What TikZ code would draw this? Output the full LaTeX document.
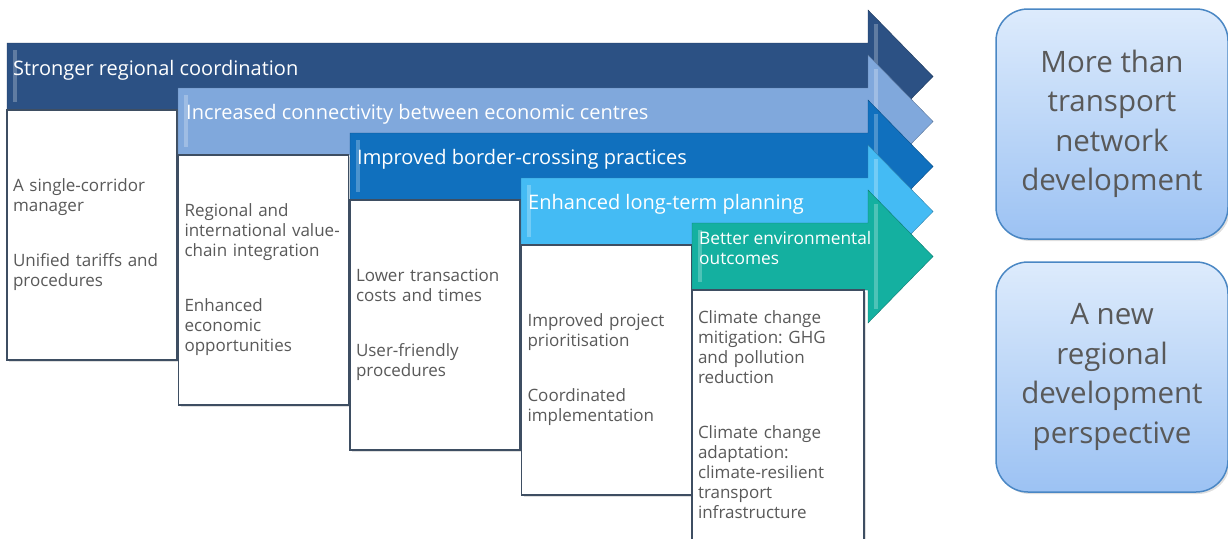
\documentclass[tikz,border=0pt]{standalone}
\usepackage{fontspec}
\setmainfont{Open Sans}
\usetikzlibrary{shadows}
\frenchspacing

\definecolor{navyarrow}{HTML}{2C5184}
\definecolor{skyarrow}{HTML}{80A8DC}
\definecolor{bluearrow}{HTML}{1070BE}
\definecolor{cyanarrow}{HTML}{44BBF4}
\definecolor{tealarrow}{HTML}{14B0A0}
\definecolor{boxtext}{HTML}{595959}
\definecolor{boxedge}{HTML}{3E4E62}
\definecolor{pilltop}{HTML}{DDEBFC}
\definecolor{pillbottom}{HTML}{9CC2F3}
\definecolor{pilledge}{HTML}{4A87C4}

\tikzset{
  arrowlabel/.style={anchor=base west, inner sep=0pt, text=white, font=\fontsize{20}{22}\selectfont},
  bevel/.style={white, opacity=0.25, line width=4pt},
  infobox/.style={draw=boxedge, line width=1.2pt, fill=white, minimum width=170pt, minimum height=250pt,
    text width=158pt, inner xsep=6pt, align=left, text=boxtext, font=\fontsize{17}{20}\selectfont,
    drop shadow={opacity=0.25, shadow xshift=2pt, shadow yshift=-2pt}},
  goalbox/.style={draw=pilledge, line width=1.5pt, rounded corners=32pt, top color=pilltop, bottom color=pillbottom,
    minimum width=232pt, minimum height=230pt, align=center, text=boxtext, font=\fontsize{29.5}{39.5}\selectfont,
    drop shadow={opacity=0.25, shadow xshift=2pt, shadow yshift=-2pt}}
}

\begin{document}
\begin{tikzpicture}[x=1pt,y=-1pt]
\useasboundingbox (0,0) rectangle (1228,538);

% stage 1
\filldraw[fill=navyarrow, draw=navyarrow!70!black] (7,43) -- (868,43) -- (868,10) -- (933,76.5) -- (868,143) -- (868,110) -- (7,110) -- cycle;
\draw[bevel] (15,50) -- (15,102);
\draw[bevel] (876,24) -- (876,129);
\node[arrowlabel] (coord) at (13,75) {Stronger regional coordination};
\node[infobox] (box1) at (92,235) {A single-corridor\\manager\\[35pt]Unified tariffs and\\procedures};

% stage 2
\filldraw[fill=skyarrow, draw=skyarrow!70!black] (178,88) -- (868,88) -- (868,55) -- (933,121.5) -- (868,188) -- (868,155) -- (178,155) -- cycle;
\draw[bevel] (186,95) -- (186,147);
\draw[bevel] (876,69) -- (876,174);
\node[arrowlabel] (connect) at (186,119) {Increased connectivity between economic centres};
\node[infobox] (box2) at (263.5,280) {Regional and\\international value-\\chain integration\\[35pt]Enhanced\\economic\\opportunities};

% stage 3
\filldraw[fill=bluearrow, draw=bluearrow!70!black] (350,133) -- (868,133) -- (868,100) -- (933,166.5) -- (868,233) -- (868,200) -- (350,200) -- cycle;
\draw[bevel] (358,140) -- (358,192);
\draw[bevel] (876,114) -- (876,219);
\node[arrowlabel] (border) at (357,164) {Improved border-crossing practices};
\node[infobox] (box3) at (435,325) {Lower transaction\\costs and times\\[35pt]User-friendly\\procedures};

% stage 4
\filldraw[fill=cyanarrow, draw=cyanarrow!70!black] (521,178) -- (868,178) -- (868,145) -- (933,211.5) -- (868,278) -- (868,245) -- (521,245) -- cycle;
\draw[bevel] (529,185) -- (529,237);
\draw[bevel] (876,159) -- (876,264);
\node[arrowlabel] (planning) at (528,209) {Enhanced long-term planning};
\node[infobox] (box4) at (606.5,370) {Improved project\\prioritisation\\[35pt]Coordinated\\implementation};

% stage 5
\filldraw[fill=tealarrow, draw=tealarrow!70!black] (692,223) -- (868,223) -- (868,190) -- (933,256.5) -- (868,323) -- (868,290) -- (692,290) -- cycle;
\draw[bevel] (700,230) -- (700,282);
\draw[bevel] (876,204) -- (876,309);
\node[arrowlabel, anchor=west, align=left, font=\fontsize{17.3}{20}\selectfont] (environ) at (699,248) {Better environmental\\outcomes};
\node[infobox, minimum width=172pt, text width=160pt] (box5) at (778,415) {Climate change\\mitigation: GHG\\and pollution\\reduction\\[35pt]Climate change\\adaptation:\\climate-resilient\\transport\\infrastructure};

% outcomes
\node[goalbox] (beyond) at (1112,124) {More than\\transport\\network\\development};
\node[goalbox] (regional) at (1112,377) {A new\\regional\\development\\perspective};

\end{tikzpicture}
\end{document}
